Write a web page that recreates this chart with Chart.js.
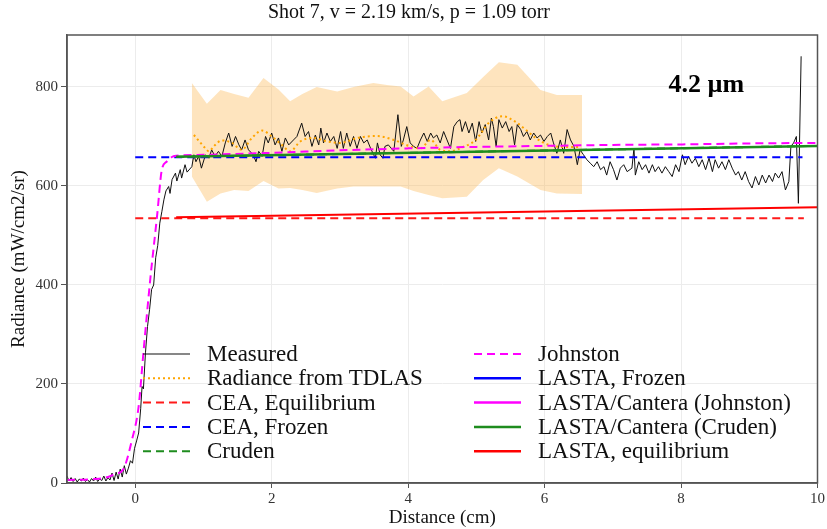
<!DOCTYPE html>
<html>
<head>
<meta charset="utf-8">
<script src="https://cdn.jsdelivr.net/npm/chart.js@4.4.1/dist/chart.umd.min.js"></script>
<style>
  html, body { margin: 0; padding: 0; background: #fff; }
  #wrap { width: 827px; height: 529px; }
</style>
</head>
<body>
<div id="wrap"><canvas id="chartRadiance"></canvas></div>
<script>
// --- axis ticks ---
const xTicks = [0, 2, 4, 6, 8, 10];
const yTicks = [0, 200, 400, 600, 800];

// --- measured radiance ---
const measuredX = [
  -1.00, -0.97, -0.94, -0.91, -0.88, -0.85, -0.82, -0.79, -0.76, -0.73, -0.70, -0.67, -0.64, -0.61,
  -0.58, -0.55, -0.52, -0.49, -0.46, -0.43, -0.40, -0.37, -0.34, -0.31, -0.28, -0.25, -0.22, -0.19,
  -0.16, -0.13, -0.10, -0.07, -0.04, -0.01, 0.02, 0.05, 0.08, 0.10, 0.12, 0.15, 0.18, 0.21, 0.24,
  0.27, 0.30, 0.33, 0.36, 0.39, 0.42, 0.45, 0.49, 0.51, 0.54, 0.59, 0.61, 0.66, 0.68, 0.73, 0.76,
  0.83, 0.86, 0.89, 0.93, 0.97, 1.03, 1.08, 1.12, 1.17, 1.22, 1.27, 1.32, 1.37, 1.42, 1.47, 1.52,
  1.56, 1.61, 1.66, 1.73, 1.77, 1.81, 1.86, 1.91, 1.95, 2.00, 2.05, 2.10, 2.15, 2.20, 2.25,
  2.32, 2.37, 2.44, 2.49, 2.54, 2.59, 2.64, 2.69, 2.72, 2.76, 2.81, 2.86, 2.91, 2.96, 3.01, 3.05,
  3.10, 3.15, 3.20, 3.25, 3.30, 3.35, 3.40, 3.45, 3.52, 3.55, 3.59, 3.63, 3.66, 3.71, 3.79, 3.85,
  3.90, 3.93, 3.98, 4.03, 4.08, 4.13, 4.18, 4.23, 4.28, 4.33, 4.37, 4.42, 4.47, 4.52, 4.57, 4.62,
  4.67, 4.72, 4.76, 4.79, 4.84, 4.89, 4.94, 4.99, 5.04, 5.08, 5.13, 5.18, 5.22, 5.25, 5.29, 5.33,
  5.38, 5.43, 5.48, 5.52, 5.56, 5.60, 5.65, 5.69, 5.74, 5.79, 5.84, 5.89, 5.94, 5.99, 6.04, 6.09,
  6.13, 6.18, 6.23, 6.28, 6.33, 6.38, 6.43, 6.48, 6.52, 6.57, 6.62, 6.67, 6.72, 6.77, 6.82, 6.87,
  6.91, 6.96, 7.01, 7.06, 7.11, 7.16, 7.21, 7.28, 7.31, 7.33, 7.38, 7.43, 7.48, 7.53, 7.58, 7.62,
  7.67, 7.72, 7.77, 7.82, 7.87, 7.92, 7.97, 8.02, 8.06, 8.11, 8.16, 8.21, 8.26, 8.31, 8.36, 8.41,
  8.46, 8.50, 8.55, 8.60, 8.65, 8.70, 8.75, 8.80, 8.84, 8.89, 8.94, 8.99, 9.04, 9.09, 9.14, 9.19,
  9.24, 9.29, 9.34, 9.38, 9.43, 9.48, 9.53, 9.58, 9.61, 9.65, 9.69, 9.72, 9.76
];
const measuredY = [
  14, 4, 11, 3, 9, 2, 8, 4, 10, 3, 7, 2, 9, 4,
  12, 3, 8, 5, 14, 4, 11, 6, 20, 5, 22, 8, 28, 12,
  35, 18, 30, 45, 40, 70, 85, 101, 150, 195, 190, 263, 316, 350, 391,
  400, 455, 480, 525, 548, 572, 590, 599, 585, 613, 626, 610, 633, 616, 643, 628,
  639, 663, 649, 660, 636, 663, 656, 673, 660, 670, 660, 687, 707, 680, 700, 683,
  673, 693, 673, 663, 649, 670, 660, 700, 687, 707, 683, 697, 670, 697, 683,
  693, 700, 727, 700, 710, 680, 703, 683, 717, 687, 707, 690, 700, 676, 710, 676,
  707, 680, 700, 676, 700, 687, 693, 676, 656, 687, 663, 656, 680, 683, 670, 744,
  680, 693, 720, 687, 680, 676, 693, 707, 690, 707, 697, 703, 687, 710, 693, 676,
  720, 730, 734, 710, 730, 707, 727, 690, 730, 707, 724, 693, 737, 720, 680, 734,
  717, 730, 710, 720, 683, 724, 714, 700, 710, 693, 707, 697, 703, 690, 700, 707,
  687, 666, 693, 666, 714, 693, 680, 643, 673, 663, 653, 646, 639, 649, 633, 639,
  622, 649, 633, 612, 636, 643, 629, 636, 676, 622, 649, 633, 643, 626, 643, 629,
  639, 626, 639, 629, 619, 643, 629, 663, 643, 660, 646, 656, 639, 653, 633, 656,
  629, 653, 636, 649, 633, 653, 636, 622, 629, 612, 629, 609, 596, 619, 602, 622,
  606, 622, 609, 626, 616, 629, 592, 609, 680, 687, 700, 565, 862
];

// --- radiance from TDLAS (dotted) and its uncertainty band ---
const tdlasX = [0.86, 1.03, 1.08, 1.15, 1.27, 1.42, 1.56, 1.71, 1.86, 2.00, 2.15, 2.27, 2.42, 2.61, 2.81,
  3.01, 3.25, 3.54, 3.79, 4.03, 4.18, 4.33, 4.47, 4.62, 4.79, 4.99, 5.18, 5.38, 5.57, 5.72, 5.87,
  6.06, 6.26, 6.52];
const tdlasY = [703, 676, 670, 680, 692, 687, 673, 697, 712, 700, 683, 670, 690, 697, 690,
  687, 697, 701, 693, 680, 676, 693, 673, 670, 678, 693, 727, 741, 730, 714, 697,
  683, 679, 679];
const bandX = [0.83, 1.05, 1.25, 1.45, 1.66, 1.88, 2.10, 2.27, 2.45, 2.66, 2.96, 3.20, 3.49, 3.69,
  3.89, 4.08, 4.30, 4.50, 4.86, 5.10, 5.33, 5.60, 5.94, 6.18, 6.55];
const bandUpper = [808, 766, 794, 786, 778, 818, 795, 771, 786, 800, 791, 800, 808, 804,
  801, 781, 801, 771, 788, 820, 850, 845, 794, 784, 784];
const bandLower = [619, 568, 585, 592, 590, 610, 595, 596, 592, 586, 595, 599, 599, 599,
  599, 590, 582, 575, 578, 612, 636, 619, 592, 585, 584];

// --- model curves ---
const ceaEqX = [0, 9.8];
const ceaEqY = [535, 535];
const ceaFrozenX = [0, 9.78];
const ceaFrozenY = [658, 658];
const crudenX = [0.6, 10];
const crudenY = [659, 681];
const johnstonX = [-1, -0.6, -0.4, -0.3, -0.17, -0.05, 0.05, 0.12, 0.22, 0.32, 0.39, 0.46, 0.53, 0.6,
  1, 2, 3, 4, 5, 6, 7, 8, 9, 10];
const johnstonY = [6, 8, 12, 18, 29, 86, 155, 263, 411, 539, 633, 649, 658, 661,
  663, 667, 672, 676, 679, 681, 683, 684, 686, 687];
const lastaFrozenX = [];
const lastaFrozenY = [];
const lastaJohnstonX = [];
const lastaJohnstonY = [];
const lastaCrudenX = [0.6, 10];
const lastaCrudenY = [659, 681];
const lastaEqX = [0.6, 10];
const lastaEqY = [537, 557];

const SERIF = '"Liberation Serif", "Times New Roman", serif';

function toPoints(xs, ys) {
  return xs.map((x, i) => ({ x: x, y: ys[i] }));
}

// legend drawn inside the plot, two columns
const plotLegend = {
  id: 'plotLegend',
  afterDraw(chart) {
    const ctx = chart.ctx;
    ctx.save();
    ctx.font = '23px ' + SERIF;
    ctx.textBaseline = 'middle';
    ctx.textAlign = 'left';
    const colX = [143, 474];
    chart.data.datasets.forEach((ds) => {
      if (ds.legendSlot === undefined) return;
      const col = Math.floor(ds.legendSlot / 5);
      const row = ds.legendSlot % 5;
      const x0 = colX[col];
      const y = 354 + row * 24.3;
      ctx.strokeStyle = ds.borderColor;
      ctx.lineWidth = ds.legendWidth || ds.borderWidth;
      ctx.setLineDash(ds.borderDash || []);
      ctx.beginPath();
      ctx.moveTo(x0, y);
      ctx.lineTo(x0 + 47, y);
      ctx.stroke();
      ctx.setLineDash([]);
      ctx.fillStyle = '#111';
      ctx.fillText(ds.label, x0 + 64, y + 1);
    });
    ctx.restore();
  }
};

// box round the plot and the wavelength note
const plotFrame = {
  id: 'plotFrame',
  afterDraw(chart) {
    const { ctx, chartArea: a, scales } = chart;
    ctx.save();
    ctx.strokeStyle = '#555';
    ctx.lineWidth = 1.5;
    ctx.strokeRect(a.left, a.top, a.right - a.left, a.bottom - a.top);
    ctx.font = 'bold 26px ' + SERIF;
    ctx.fillStyle = '#000';
    ctx.textAlign = 'center';
    ctx.textBaseline = 'middle';
    ctx.fillText('4.2 \u00b5m', scales.x.getPixelForValue(8.37), scales.y.getPixelForValue(803));
    ctx.restore();
  }
};

const dashed = [8, 5];

new Chart(document.getElementById('chartRadiance'), {
  type: 'line',
  data: {
    datasets: [
      {
        label: 'band upper',
        data: toPoints(bandX, bandUpper),
        borderWidth: 0,
        pointRadius: 0,
        fill: 1,
        backgroundColor: 'rgba(251, 180, 76, 0.36)',
        order: 20
      },
      {
        label: 'band lower',
        data: toPoints(bandX, bandLower),
        borderWidth: 0,
        pointRadius: 0,
        fill: false,
        order: 21
      },
      {
        label: 'Measured',
        data: toPoints(measuredX, measuredY),
        borderColor: '#111',
        borderWidth: 1,
        legendWidth: 1.2,
        pointRadius: 0,
        order: 10,
        legendSlot: 0
      },
      {
        label: 'Radiance from TDLAS',
        data: toPoints(tdlasX, tdlasY),
        borderColor: '#FFA500',
        borderWidth: 2,
        borderDash: [2, 3],
        pointRadius: 0,
        cubicInterpolationMode: 'monotone',
        order: 9,
        legendSlot: 1
      },
      {
        label: 'CEA, Equilibrium',
        data: toPoints(ceaEqX, ceaEqY),
        borderColor: '#FF1A1A',
        borderWidth: 2,
        borderDash: dashed,
        pointRadius: 0,
        order: 8,
        legendSlot: 2
      },
      {
        label: 'CEA, Frozen',
        data: toPoints(ceaFrozenX, ceaFrozenY),
        borderColor: '#0000FF',
        borderWidth: 2,
        borderDash: dashed,
        pointRadius: 0,
        order: 7,
        legendSlot: 3
      },
      {
        label: 'Cruden',
        data: toPoints(crudenX, crudenY),
        borderColor: '#1E8C1E',
        borderWidth: 2,
        borderDash: dashed,
        pointRadius: 0,
        order: 6,
        legendSlot: 4
      },
      {
        label: 'Johnston',
        data: toPoints(johnstonX, johnstonY),
        borderColor: '#FF00FF',
        borderWidth: 2,
        borderDash: dashed,
        pointRadius: 0,
        cubicInterpolationMode: 'monotone',
        order: 5,
        legendSlot: 5
      },
      {
        label: 'LASTA, Frozen',
        data: toPoints(lastaFrozenX, lastaFrozenY),
        borderColor: '#0000FF',
        borderWidth: 2.5,
        pointRadius: 0,
        order: 4,
        legendSlot: 6
      },
      {
        label: 'LASTA/Cantera (Johnston)',
        data: toPoints(lastaJohnstonX, lastaJohnstonY),
        borderColor: '#FF00FF',
        borderWidth: 2.5,
        pointRadius: 0,
        order: 3,
        legendSlot: 7
      },
      {
        label: 'LASTA/Cantera (Cruden)',
        data: toPoints(lastaCrudenX, lastaCrudenY),
        borderColor: '#1E8C1E',
        borderWidth: 2.5,
        pointRadius: 0,
        order: 2,
        legendSlot: 8
      },
      {
        label: 'LASTA, equilibrium',
        data: toPoints(lastaEqX, lastaEqY),
        borderColor: '#FF0000',
        borderWidth: 2,
        legendWidth: 2.5,
        pointRadius: 0,
        order: 1,
        legendSlot: 9
      }
    ]
  },
  options: {
    responsive: true,
    maintainAspectRatio: false,
    animation: false,
    layout: { padding: { left: 0, right: 9, top: 0, bottom: 0 } },
    plugins: {
      legend: { display: false },
      tooltip: { enabled: false },
      title: {
        display: true,
        text: 'Shot 7, v = 2.19 km/s, p = 1.09 torr',
        color: '#111',
        font: { family: SERIF, size: 20, weight: 'normal' },
        padding: { top: 1, bottom: 10 }
      }
    },
    scales: {
      x: {
        type: 'linear',
        min: -1,
        max: 10,
        afterBuildTicks: (scale) => { scale.ticks = xTicks.map((v) => ({ value: v })); },
        afterFit: (scale) => { scale.height = 46; },
        ticks: { color: '#333', font: { family: SERIF, size: 15 }, padding: 2, maxRotation: 0 },
        grid: { color: '#ececec', tickColor: '#555', tickLength: 5 },
        border: { color: '#555', width: 1.5 },
        title: {
          display: true,
          text: 'Distance (cm)',
          color: '#111',
          font: { family: SERIF, size: 19 },
          padding: { top: 0, bottom: 0 }
        }
      },
      y: {
        min: 0,
        max: 905,
        afterBuildTicks: (scale) => { scale.ticks = yTicks.map((v) => ({ value: v })); },
        afterFit: (scale) => { scale.width = 67; },
        ticks: { color: '#333', font: { family: SERIF, size: 15 }, padding: 3 },
        grid: { color: '#ececec', tickColor: '#555', tickLength: 6 },
        border: { color: '#555', width: 1.5 },
        title: {
          display: true,
          text: 'Radiance (mW/cm2/sr)',
          color: '#111',
          font: { family: SERIF, size: 19 },
          padding: { top: 8, bottom: 0 }
        }
      }
    }
  },
  plugins: [plotLegend, plotFrame]
});
</script>
</body>
</html>
